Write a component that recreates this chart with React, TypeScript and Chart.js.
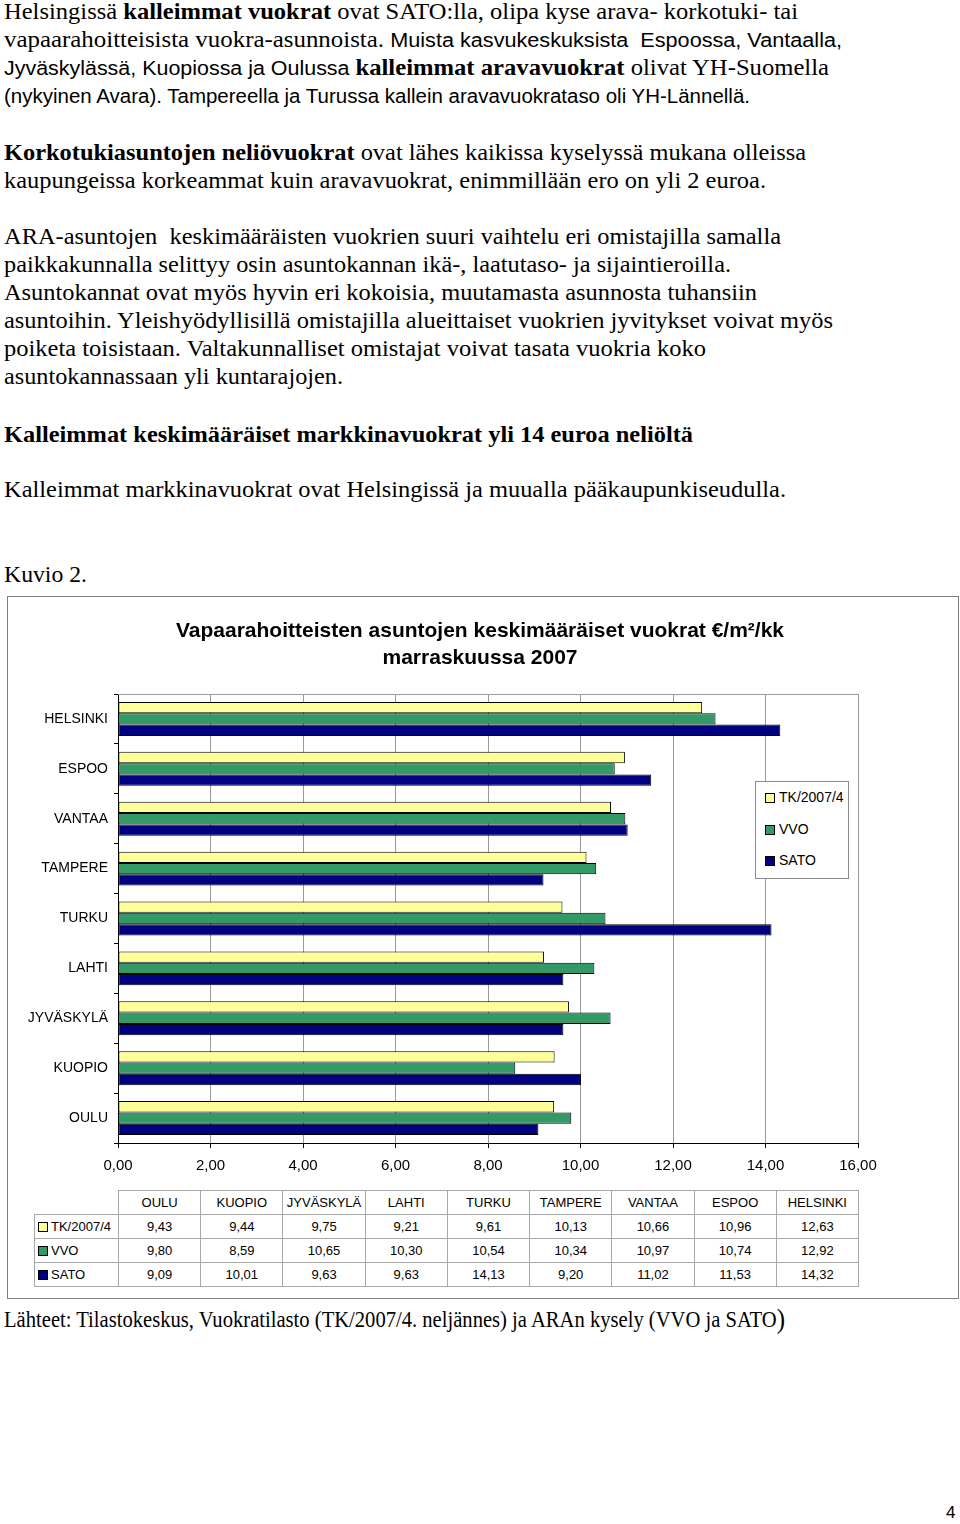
import React, { useEffect, useLayoutEffect, useRef } from "react";
import { Chart, registerables } from "chart.js";

Chart.register(...registerables);

// ---------- data ----------
const cities = ["OULU", "KUOPIO", "JYVÄSKYLÄ", "LAHTI", "TURKU", "TAMPERE", "VANTAA", "ESPOO", "HELSINKI"];
const seriesNames = ["TK/2007/4", "VVO", "SATO"];
const tkValues = [9.43, 9.44, 9.75, 9.21, 9.61, 10.13, 10.66, 10.96, 12.63];
const vvoValues = [9.8, 8.59, 10.65, 10.3, 10.54, 10.34, 10.97, 10.74, 12.92];
const satoValues = [9.09, 10.01, 9.63, 9.63, 14.13, 9.2, 11.02, 11.53, 14.32];
const seriesColors = ["#FFFF99", "#339966", "#000080"];
const xMin = 0;
const xMax = 16;
const xStep = 2;
const chartTitle = ["Vapaarahoitteisten asuntojen keskimääräiset vuokrat €/m²/kk", "marraskuussa 2007"];

type Seg = { t: string; b?: boolean; sans?: boolean };
type Line = { segs: Seg[]; cy: number; right: number };

const textLines: Line[] = [
  { cy: 13, right: 798, segs: [{ t: "Helsingissä " }, { t: "kalleimmat vuokrat", b: true }, { t: " ovat SATO:lla, olipa kyse arava- korkotuki- tai" }] },
  { cy: 41, right: 842, segs: [{ t: "vapaarahoitteisista vuokra-asunnoista. " }, { t: "Muista kasvukeskuksista  Espoossa, Vantaalla,", sans: true }] },
  { cy: 69, right: 829, segs: [{ t: "Jyväskylässä, Kuopiossa ja Oulussa ", sans: true }, { t: "kalleimmat aravavuokrat", b: true }, { t: " olivat YH-Suomella" }] },
  { cy: 97, right: 750, segs: [{ t: "(nykyinen Avara). Tampereella ja Turussa kallein aravavuokrataso oli YH-Lännellä.", sans: true }] },
  { cy: 154, right: 806, segs: [{ t: "Korkotukiasuntojen neliövuokrat", b: true }, { t: " ovat lähes kaikissa kyselyssä mukana olleissa" }] },
  { cy: 182, right: 766, segs: [{ t: "kaupungeissa korkeammat kuin aravavuokrat, enimmillään ero on yli 2 euroa." }] },
  { cy: 238, right: 781, segs: [{ t: "ARA-asuntojen  keskimääräisten vuokrien suuri vaihtelu eri omistajilla samalla" }] },
  { cy: 266, right: 731, segs: [{ t: "paikkakunnalla selittyy osin asuntokannan ikä-, laatutaso- ja sijaintieroilla." }] },
  { cy: 294, right: 757, segs: [{ t: "Asuntokannat ovat myös hyvin eri kokoisia, muutamasta asunnosta tuhansiin" }] },
  { cy: 322, right: 833, segs: [{ t: "asuntoihin. Yleishyödyllisillä omistajilla alueittaiset vuokrien jyvitykset voivat myös" }] },
  { cy: 350, right: 706, segs: [{ t: "poiketa toisistaan. Valtakunnalliset omistajat voivat tasata vuokria koko" }] },
  { cy: 378, right: 343, segs: [{ t: "asuntokannassaan yli kuntarajojen." }] },
  { cy: 436, right: 693, segs: [{ t: "Kalleimmat keskimääräiset markkinavuokrat yli 14 euroa neliöltä", b: true }] },
  { cy: 491, right: 786, segs: [{ t: "Kalleimmat markkinavuokrat ovat Helsingissä ja muualla pääkaupunkiseudulla." }] },
  { cy: 576, right: 87, segs: [{ t: "Kuvio 2." }] },
  { cy: 1320, right: 785, segs: [{ t: "Lähteet: Tilastokeskus, Vuokratilasto (TK/2007/4. neljännes) ja ARAn kysely (VVO ja SATO" }] },
];

const SANS = "'Liberation Sans', Arial, sans-serif";
const SERIF = "'Liberation Serif', 'Times New Roman', serif";

const fmt = (v: number) => v.toFixed(2).replace(".", ",");

const plotFramePlugin = {
  id: "plotFrame",
  beforeDatasetsDraw(chart: any) {
    const { ctx, chartArea } = chart;
    ctx.save();
    ctx.strokeStyle = "#9a9a9a";
    ctx.lineWidth = 1;
    ctx.beginPath();
    ctx.moveTo(chartArea.left, Math.round(chartArea.top) + 0.5);
    ctx.lineTo(chartArea.right, Math.round(chartArea.top) + 0.5);
    ctx.stroke();
    ctx.restore();
  },
};

function BarChart() {
  const ref = useRef<HTMLCanvasElement | null>(null);
  useEffect(() => {
    if (!ref.current) return;
    const values = [tkValues, vvoValues, satoValues];
    const chart = new Chart(ref.current, {
      type: "bar",
      data: {
        labels: cities,
        datasets: seriesNames.map((name, i) => ({
          label: name,
          data: values[i],
          backgroundColor: seriesColors[i],
          borderColor: "#000",
          borderWidth: 1,
          borderSkipped: false,
          categoryPercentage: 0.68,
          barPercentage: 1,
          xAxisID: "x",
          yAxisID: "y",
        })),
      },
      options: {
        indexAxis: "y",
        responsive: false,
        maintainAspectRatio: false,
        animation: false,
        layout: { padding: 0 },
        plugins: {
          legend: { display: false },
          tooltip: { enabled: false },
          title: {
            display: true,
            text: chartTitle,
            color: "#000",
            font: { family: SANS, size: 21, weight: "bold", lineHeight: 27 / 21 },
            padding: { top: 22, bottom: 22 },
          },
        },
        scales: {
          x: {
            type: "linear",
            position: "bottom",
            min: xMin,
            max: xMax,
            ticks: {
              stepSize: xStep,
              color: "#000",
              font: { family: SANS, size: 15 },
              padding: 9,
              callback: (v: any) => fmt(Number(v)),
            },
            grid: { color: "#9a9a9a", tickColor: "#000", tickLength: 5 },
            border: { color: "#000" },
            afterFit: (s: any) => {
              s.height = 47;
            },
          },
          y: {
            type: "category",
            position: "left",
            reverse: true,
            offset: true,
            ticks: { color: "#000", font: { family: SANS, size: 14 }, padding: 6, autoSkip: false },
            grid: { drawOnChartArea: false, tickLength: 4, tickColor: "#000", offset: true },
            border: { color: "#000" },
            afterFit: (s: any) => {
              s.width = 118;
            },
          },
          yRight: {
            type: "linear",
            position: "right",
            min: 0,
            max: 1,
            ticks: { display: false },
            grid: { display: false, drawTicks: false },
            border: { display: false },
            afterFit: (s: any) => {
              s.width = 102;
            },
          },
        },
      } as any,
      plugins: [plotFramePlugin],
    });
    return () => chart.destroy();
  }, []);
  return (
    <canvas
      ref={ref}
      width={960}
      height={594}
      style={{ position: "absolute", left: 0, top: 596, width: 960, height: 594 }}
    />
  );
}

function FitLine({ line }: { line: Line }) {
  const ref = useRef<HTMLDivElement | null>(null);
  useLayoutEffect(() => {
    const el = ref.current;
    if (!el) return;
    const fit = () => {
      el.style.transform = "none";
      const w = el.getBoundingClientRect().width;
      if (w > 0) el.style.transform = `scaleX(${(line.right - 4) / w})`;
    };
    fit();
    (document as any).fonts?.ready?.then(fit);
  }, [line]);
  const isFooter = line.cy > 1000;
  return (
    <div
      ref={ref}
      style={{
        position: "absolute",
        left: 4,
        top: line.cy - 15,
        whiteSpace: "pre",
        fontFamily: SERIF,
        fontSize: 23,
        lineHeight: "28px",
        color: "#000",
        transformOrigin: "0 0",
        display: "inline-block",
      }}
    >
      {line.segs.map((s, i) => (
        <span
          key={i}
          style={{
            fontWeight: s.b ? "bold" : "normal",
            fontFamily: s.sans ? SANS : SERIF,
            fontSize: s.sans ? 20 : 23,
          }}
        >
          {s.t}
        </span>
      ))}
      {isFooter ? <span style={{ fontSize: 28, verticalAlign: "-1px" }}>)</span> : null}
    </div>
  );
}

function Legend() {
  return (
    <div
      style={{
        position: "absolute",
        left: 755,
        top: 781,
        width: 92,
        height: 96,
        border: "1px solid #8a8a8a",
        background: "#fff",
        fontFamily: SANS,
        fontSize: 14,
      }}
    >
      {seriesNames.map((n, i) => (
        <div key={n} style={{ position: "absolute", left: 9, top: 6 + i * 31.5, height: 18, lineHeight: "18px", whiteSpace: "nowrap" }}>
          <span
            style={{
              display: "inline-block",
              width: 8,
              height: 8,
              background: seriesColors[i],
              border: "1px solid #000",
              marginRight: 4,
              verticalAlign: "-1px",
            }}
          />
          {n}
        </div>
      ))}
    </div>
  );
}

function DataTable() {
  const values = [tkValues, vvoValues, satoValues];
  const colW = 740 / cities.length;
  const cell: React.CSSProperties = {
    border: "1px solid #a8a8a8",
    textAlign: "center",
    padding: 0,
    height: 23,
    fontFamily: SANS,
    fontSize: 13,
    color: "#000",
  };
  return (
    <table
      style={{
        position: "absolute",
        left: 34,
        top: 1190,
        borderCollapse: "collapse",
        tableLayout: "fixed",
        width: 824,
      }}
    >
      <colgroup>
        <col style={{ width: 84 }} />
        {cities.map((c) => (
          <col key={c} style={{ width: colW }} />
        ))}
      </colgroup>
      <tbody>
        <tr>
          <td style={{ ...cell, border: "none" }} />
          {cities.map((c) => (
            <td key={c} style={cell}>
              {c}
            </td>
          ))}
        </tr>
        {seriesNames.map((n, i) => (
          <tr key={n}>
            <td style={{ ...cell, textAlign: "left", paddingLeft: 3, whiteSpace: "nowrap" }}>
              <span
                style={{
                  display: "inline-block",
                  width: 8,
                  height: 8,
                  background: seriesColors[i],
                  border: "1px solid #000",
                  marginRight: 3,
                  verticalAlign: "-1px",
                }}
              />
              {n}
            </td>
            {values[i].map((v, j) => (
              <td key={j} style={cell}>
                {fmt(v)}
              </td>
            ))}
          </tr>
        ))}
      </tbody>
    </table>
  );
}

export default function App() {
  return (
    <div style={{ position: "absolute", left: 0, top: 0, width: 960, height: 1524, background: "#fff", overflow: "hidden" }}>
      {textLines.map((l, i) => (
        <FitLine key={i} line={l} />
      ))}
      <div
        style={{
          position: "absolute",
          left: 7,
          top: 596,
          width: 950,
          height: 701,
          border: "1px solid #7f7f7f",
        }}
      />
      <BarChart />
      <Legend />
      <DataTable />
      <div
        style={{
          position: "absolute",
          left: 946,
          top: 1503,
          fontFamily: SANS,
          fontSize: 17,
          lineHeight: "20px",
          color: "#000",
        }}
      >
        4
      </div>
    </div>
  );
}
